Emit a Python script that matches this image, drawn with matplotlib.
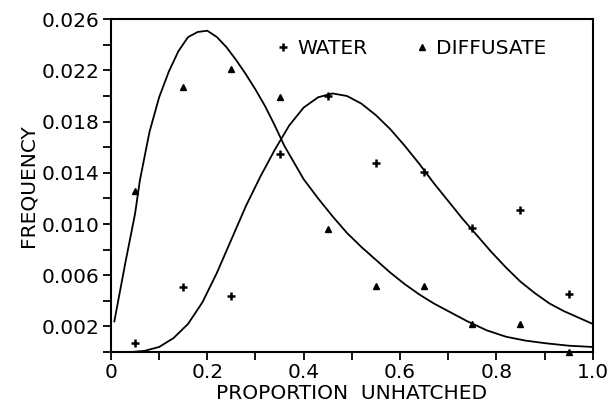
import numpy as np
import matplotlib
matplotlib.use("Agg")
import matplotlib.pyplot as plt

# observed proportions unhatched (bin centres)
bins = [0.05, 0.15, 0.25, 0.35, 0.45, 0.55, 0.65, 0.75, 0.85, 0.95]
water = [0.0007, 0.0051, 0.0044, 0.0155, 0.0200, 0.0148, 0.0141, 0.0097, 0.0111, 0.0045]
diffusate = [0.0126, 0.0207, 0.0221, 0.0199, 0.0096, 0.0052, 0.0052, 0.0022, 0.0022, 0.0000]

# fitted curves
water_fit_x = [0.04, 0.07, 0.10, 0.13, 0.16, 0.19, 0.22, 0.25, 0.28, 0.31, 0.34,
               0.37, 0.40, 0.43, 0.46, 0.49, 0.52, 0.55, 0.58, 0.61, 0.64, 0.67,
               0.70, 0.73, 0.76, 0.79, 0.82, 0.85, 0.88, 0.91, 0.94, 0.97, 1.00]
water_fit_y = [0.0000, 0.0001, 0.0004, 0.0011, 0.0022, 0.0039, 0.0062, 0.0088,
               0.0114, 0.0137, 0.0158, 0.0177, 0.0191, 0.0199, 0.0202, 0.0200,
               0.0194, 0.0185, 0.0174, 0.0161, 0.0147, 0.0132, 0.0118, 0.0104,
               0.0091, 0.0078, 0.0066, 0.0055, 0.0046, 0.0038, 0.0032, 0.0027, 0.0022]

diff_fit_x = [0.007, 0.02, 0.03, 0.04, 0.05, 0.06, 0.08, 0.10, 0.12, 0.14, 0.16,
              0.18, 0.20, 0.22, 0.24, 0.26, 0.28, 0.30, 0.32, 0.34, 0.36, 0.38,
              0.40, 0.43, 0.46, 0.49, 0.52, 0.55, 0.58, 0.61, 0.64, 0.67, 0.70,
              0.74, 0.78, 0.82, 0.86, 0.90, 0.95, 1.00]
diff_fit_y = [0.0024, 0.0050, 0.0070, 0.0089, 0.0108, 0.0134, 0.0172, 0.0199,
              0.0219, 0.0235, 0.0246, 0.0250, 0.0251, 0.0246, 0.0238, 0.0228,
              0.0217, 0.0205, 0.0192, 0.0177, 0.0161, 0.0148, 0.0135, 0.0120,
              0.0106, 0.0093, 0.0082, 0.0072, 0.0062, 0.0053, 0.0045, 0.0038,
              0.0032, 0.0024, 0.0017, 0.0012, 0.0009, 0.0007, 0.0005, 0.0004]

xticks = [0, 0.2, 0.4, 0.6, 0.8, 1.0]
xticklabels = ["0", "0.2", "0.4", "0.6", "0.8", "1.0"]
yticks = [0.002, 0.006, 0.010, 0.014, 0.018, 0.022, 0.026]

plt.rcParams['font.family'] = ['DejaVu Sans']

fig = plt.figure(figsize=(6.13, 4.08), dpi=100)
ax = fig.add_axes([0.181, 0.137, 0.786, 0.816])

ax.plot(water_fit_x, water_fit_y, color='black', lw=1.3)
ax.plot(diff_fit_x, diff_fit_y, color='black', lw=1.3)
ax.plot(bins, water, ls='none', marker='+', ms=6, mew=1.8, color='black',
        label='WATER', clip_on=False)
ax.plot(bins, diffusate, ls='none', marker='^', ms=4.5, color='black',
        label='DIFFUSATE', clip_on=False)

ax.set_xlim(0, 1.0)
ax.set_ylim(0, 0.026)
ax.set_xticks(xticks)
ax.set_xticklabels(xticklabels)
ax.set_xticks(np.arange(0.1, 1.0, 0.2), minor=True)
ax.set_yticks(yticks)
ax.set_yticks(np.arange(0, 0.0261, 0.004), minor=True)
ax.tick_params(which='both', direction='out', length=6, width=1.3, labelsize=14.5, pad=2)

for s in ax.spines.values():
    s.set_linewidth(1.5)

ax.set_xlabel('PROPORTION  UNHATCHED', fontsize=14.5, labelpad=1)
ax.set_ylabel('FREQUENCY', fontsize=14.5, labelpad=3)

ax.legend(loc='upper left', bbox_to_anchor=(0.307, 0.995), ncol=2, frameon=False,
          handlelength=0.6, handletextpad=0.4, columnspacing=2.4, fontsize=14.5)

fig.savefig('out.png', dpi=100)
